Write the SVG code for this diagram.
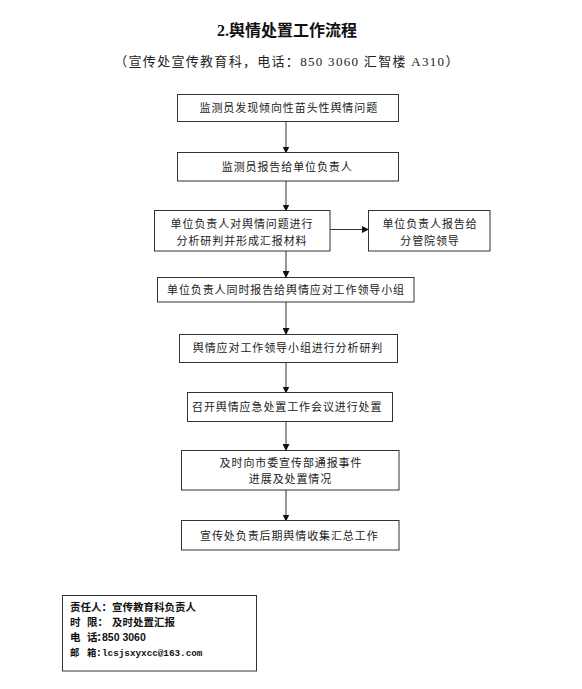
<svg xmlns="http://www.w3.org/2000/svg" width="582" height="689" viewBox="0 0 582 689">
<style>
.bg{fill:#ffffff}
.box{fill:#ffffff;stroke:#333333;stroke-width:1}
.t{font-family:"Liberation Serif","Noto Sans CJK SC",serif;font-size:11px;letter-spacing:0.9px;fill:#222;text-anchor:middle}
.title{font-family:"Liberation Serif","Noto Sans CJK SC",serif;font-size:16px;font-weight:bold;fill:#111;text-anchor:middle}
.sub{font-family:"Liberation Serif","Noto Sans CJK SC",serif;font-size:13px;letter-spacing:1.3px;fill:#222;text-anchor:middle}
.info{font-family:"Liberation Sans","Noto Sans CJK SC",sans-serif;font-size:10.5px;font-weight:bold;fill:#111}
.mono{font-family:"Liberation Mono","Noto Sans CJK SC",monospace;font-size:9.3px;font-weight:bold;fill:#111}
.conn{stroke:#333333;stroke-width:1;fill:none;marker-end:url(#ah)}
</style>
<defs>
<marker id="ah" markerWidth="7" markerHeight="7" refX="6" refY="3.5" orient="auto" markerUnits="userSpaceOnUse">
<path d="M0,0 L7,3.5 L0,7 Z" fill="#111"/>
</marker>
</defs>
<rect class="bg" x="0" y="0" width="582" height="689"/>
<g id="title">
<text class="title" x="287" y="36">2.舆情处置工作流程</text>
<text class="sub" x="287" y="66">（宣传处宣传教育科，电话：850 3060 汇智楼 A310）</text>
</g>
<g id="connectors">
<line class="conn" x1="286" y1="121" x2="286" y2="152.5"/>
<line class="conn" x1="286" y1="181" x2="286" y2="210.5"/>
<line class="conn" x1="286" y1="251" x2="286" y2="277"/>
<line class="conn" x1="330" y1="229.5" x2="368" y2="229.5"/>
<line class="conn" x1="286" y1="302" x2="286" y2="334"/>
<line class="conn" x1="286" y1="362" x2="286" y2="392.5"/>
<line class="conn" x1="286" y1="422" x2="286" y2="450"/>
<line class="conn" x1="286" y1="490" x2="286" y2="520.5"/>
</g>
<g id="n1">
<rect class="box" x="177.5" y="94.5" width="221" height="27"/>
<text class="t" x="288.8" y="112">监测员发现倾向性苗头性舆情问题</text>
</g>
<g id="n2">
<rect class="box" x="177.5" y="152.5" width="221" height="28.5"/>
<text class="t" x="287.2" y="171">监测员报告给单位负责人</text>
</g>
<g id="n3">
<rect class="box" x="154.5" y="210.5" width="175.5" height="40.5"/>
<text class="t" x="242" y="227.5">单位负责人对舆情问题进行</text>
<text class="t" x="242" y="245">分析研判并形成汇报材料</text>
</g>
<g id="n3b">
<rect class="box" x="368.5" y="210.5" width="121.5" height="40.5"/>
<text class="t" x="430" y="227.5">单位负责人报告给</text>
<text class="t" x="430" y="245">分管院领导</text>
</g>
<g id="n4">
<rect class="box" x="157.5" y="277.5" width="256.5" height="24.5"/>
<text class="t" x="286" y="293.5">单位负责人同时报告给舆情应对工作领导小组</text>
</g>
<g id="n5">
<rect class="box" x="179.5" y="334.5" width="218" height="28"/>
<text class="t" x="288" y="352">舆情应对工作领导小组进行分析研判</text>
</g>
<g id="n6">
<rect class="box" x="187.5" y="392.5" width="205" height="29"/>
<text class="t" x="287.2" y="411">召开舆情应急处置工作会议进行处置</text>
</g>
<g id="n7">
<rect class="box" x="181.5" y="450.5" width="217.5" height="39.5"/>
<text class="t" x="291" y="467">及时向市委宣传部通报事件</text>
<text class="t" x="290.5" y="483">进展及处置情况</text>
</g>
<g id="n8">
<rect class="box" x="181.5" y="520.5" width="217.5" height="29.5"/>
<text class="t" x="289.3" y="540">宣传处负责后期舆情收集汇总工作</text>
</g>
<g id="info">
<rect class="box" x="62.5" y="595.5" width="194" height="75.5"/>
<text class="info" x="70" y="611">责任人：<tspan x="112">宣传教育科负责人</tspan></text>
<text class="info" x="70" y="626">时<tspan x="87">限：</tspan><tspan x="112">及时处置汇报</tspan></text>
<text class="info" x="70 87 96.5 102" y="641">电话：850 3060</text>
<text class="mono" x="70 87 96.5 102" y="656">邮箱：lcsjsxyxcc@163.com</text>
</g>
</svg>
